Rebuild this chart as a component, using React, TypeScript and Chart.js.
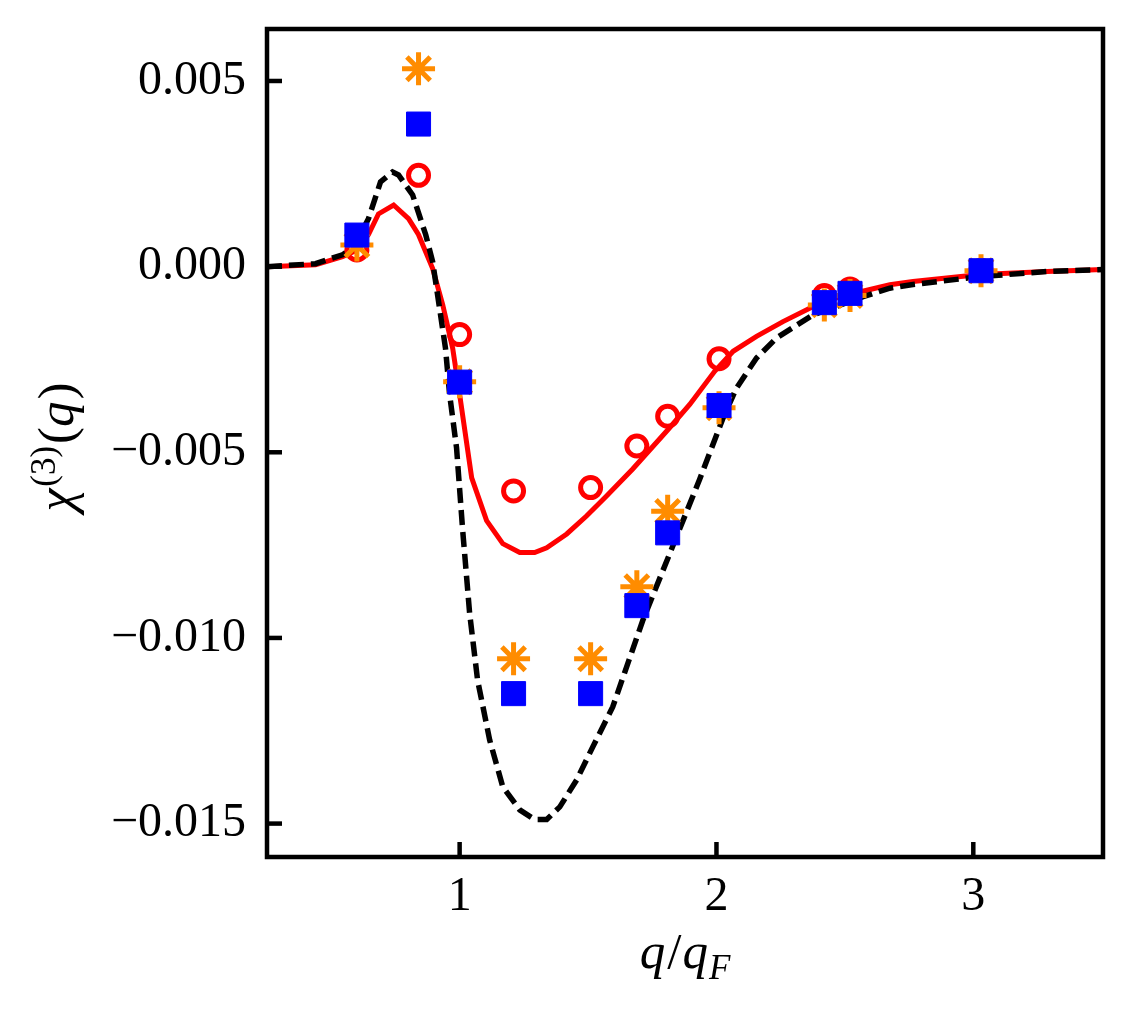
import React, { useEffect, useRef } from "react";
import { Chart, registerables } from "chart.js";

Chart.register(...registerables);

// ---- data ----
const markerQ = [0.6, 0.84, 1.0, 1.21, 1.51, 1.69, 1.81, 2.01, 2.42, 2.52, 3.03];
const squareValues = [0.00085, 0.00384, -0.00311, -0.0115, -0.0115, -0.00913, -0.00717, -0.00374, -0.00097, -0.00072, -0.00011];
const starValues = [0.00058, 0.00533, -0.0031, -0.01056, -0.01056, -0.00862, -0.00659, -0.0038, -0.00103, -0.00078, -0.00011];
const circleValues = [0.00045, 0.00246, -0.00183, -0.00604, -0.00595, -0.00483, -0.00403, -0.00248, -0.00078, -0.0006, -0.0001];

const redLineQ = [0.25, 0.439, 0.544, 0.587, 0.645, 0.684, 0.743, 0.801, 0.84, 0.895, 0.934, 0.973, 1.0, 1.047, 1.105, 1.168, 1.234, 1.292, 1.339, 1.417, 1.495, 1.573, 1.674, 1.81, 1.896, 1.993, 2.065, 2.156, 2.259, 2.363, 2.48, 2.675, 2.765, 3.026, 3.287, 3.505];
const redLineValues = [0, 0.00005, 0.00027, 0.0004, 0.00086, 0.00142, 0.00166, 0.00129, 0.00086, -0.00005, -0.00102, -0.0022, -0.00344, -0.00569, -0.00684, -0.00746, -0.0077, -0.0077, -0.00757, -0.0072, -0.00671, -0.00617, -0.00545, -0.0044, -0.00371, -0.00282, -0.00228, -0.00188, -0.00148, -0.00112, -0.00081, -0.00049, -0.0004, -0.00021, -0.00013, -0.00008];

const blackLineQ = [0.25, 0.439, 0.544, 0.587, 0.645, 0.692, 0.739, 0.762, 0.817, 0.868, 0.895, 0.918, 0.945, 0.961, 0.988, 1.012, 1.039, 1.07, 1.117, 1.168, 1.234, 1.292, 1.339, 1.39, 1.456, 1.518, 1.596, 1.713, 1.818, 1.935, 2.026, 2.078, 2.156, 2.234, 2.325, 2.376, 2.571, 2.675, 2.765, 3.026, 3.287, 3.505];
const blackLineValues = [0, 0.00008, 0.00032, 0.00051, 0.00129, 0.00228, 0.00255, 0.00247, 0.00193, 0.00086, 0.00013, -0.00094, -0.0022, -0.00344, -0.00488, -0.00711, -0.00934, -0.01114, -0.01275, -0.01401, -0.01463, -0.01489, -0.01489, -0.01455, -0.01382, -0.01294, -0.01186, -0.00953, -0.00773, -0.00572, -0.00407, -0.00327, -0.00246, -0.00192, -0.00152, -0.0013, -0.00081, -0.00058, -0.00048, -0.00027, -0.00013, -0.00008];

const xTicks = [1, 2, 3];
const xTickLabels = ["1", "2", "3"];
const yTicks = [0.005, 0, -0.005, -0.01, -0.015];
const yTickLabels = ["0.005", "0.000", "\u22120.005", "\u22120.010", "\u22120.015"];

const FONT = '"Liberation Serif", "DejaVu Serif", serif';

const pts = (xs: number[], ys: number[]) => xs.map((x, i) => ({ x, y: ys[i] }));

const labelFor = (ticks: number[], labels: string[], v: number) => {
  const i = ticks.findIndex((t) => Math.abs(t - v) < 1e-9);
  return i >= 0 ? labels[i] : "";
};

type Run = { text: string; italic?: boolean; size: number; rise?: number; gap?: number };

function drawRuns(ctx: CanvasRenderingContext2D, runs: Run[], cx: number, baseline: number) {
  const widths = runs.map((r) => {
    ctx.font = `${r.italic ? "italic " : ""}${r.size}px ${FONT}`;
    return ctx.measureText(r.text).width + (r.gap || 0);
  });
  const total = widths.reduce((a, b) => a + b, 0);
  let x = cx - total / 2;
  ctx.textAlign = "left";
  ctx.textBaseline = "alphabetic";
  runs.forEach((r, i) => {
    ctx.font = `${r.italic ? "italic " : ""}${r.size}px ${FONT}`;
    ctx.fillText(r.text, x, baseline - (r.rise || 0));
    x += widths[i];
  });
}

const framePlugin = {
  id: "frame",
  afterDatasetsDraw(chart: any) {
    const { ctx, chartArea } = chart;
    const { left, right, top, bottom } = chartArea;
    ctx.save();
    ctx.strokeStyle = "#000";
    ctx.lineWidth = 4.5;
    ctx.strokeRect(left, top, right - left, bottom - top);
    const tickLen = 15;
    const xs = chart.scales.x;
    xTicks.forEach((v) => {
      const px = xs.getPixelForValue(v);
      ctx.beginPath();
      ctx.moveTo(px, bottom);
      ctx.lineTo(px, bottom - tickLen);
      ctx.stroke();
    });
    const ys = chart.scales.y;
    yTicks.forEach((v) => {
      const py = ys.getPixelForValue(v);
      ctx.beginPath();
      ctx.moveTo(left, py);
      ctx.lineTo(left + tickLen, py);
      ctx.stroke();
    });
    ctx.restore();
  },
  afterDraw(chart: any) {
    const { ctx, chartArea } = chart;
    ctx.save();
    ctx.fillStyle = "#000";
    // x title: q/q_F
    const cx = (chartArea.left + chartArea.right) / 2;
    drawRuns(ctx, [
      { text: "q", italic: true, size: 51, gap: 2 },
      { text: "/", size: 51, gap: 1 },
      { text: "q", italic: true, size: 51, gap: 1 },
      { text: "F", italic: true, size: 35, rise: -11 },
    ], cx, 968);
    // y title: chi^(3)(q)
    const cy = (chartArea.top + chartArea.bottom) / 2 + 4;
    ctx.translate(73, cy);
    ctx.rotate(-Math.PI / 2);
    drawRuns(ctx, [
      { text: "\u03C7", italic: true, size: 52, gap: 2 },
      { text: "(3)", size: 35, rise: 18, gap: 2 },
      { text: "(", size: 51 },
      { text: "q", italic: true, size: 51, gap: 2 },
      { text: ")", size: 51 },
    ], 0, 0);
    ctx.restore();
  },
};

export default function App() {
  const ref = useRef<HTMLCanvasElement>(null);
  useEffect(() => {
    if (!ref.current) return;
    const chart = new Chart(ref.current, {
      type: "scatter",
      data: {
        datasets: [
          {
            label: "squares",
            data: pts(markerQ, squareValues),
            pointStyle: "rect",
            pointRadius: 17,
            pointBackgroundColor: "#0000ff",
            pointBorderColor: "#0000ff",
            pointBorderWidth: 1,
            showLine: false,
            order: 0,
          },
          {
            label: "stars",
            data: pts(markerQ, starValues),
            pointStyle: "star",
            pointRadius: 16.5,
            pointBackgroundColor: "#ff8c00",
            pointBorderColor: "#ff8c00",
            pointBorderWidth: 5,
            showLine: false,
            order: 1,
          },
          {
            label: "circles",
            data: pts(markerQ, circleValues),
            pointStyle: "circle",
            pointRadius: 10,
            pointBackgroundColor: "rgba(0,0,0,0)",
            pointBorderColor: "#ff0000",
            pointBorderWidth: 5,
            showLine: false,
            order: 2,
          },
          {
            label: "black",
            data: pts(blackLineQ, blackLineValues),
            showLine: true,
            borderColor: "#000000",
            borderWidth: 5.5,
            borderDash: [15, 7],
            pointRadius: 0,
            tension: 0,
            order: 3,
          },
          {
            label: "red",
            data: pts(redLineQ, redLineValues),
            showLine: true,
            borderColor: "#ff0000",
            borderWidth: 5,
            pointRadius: 0,
            tension: 0,
            order: 4,
          },
        ],
      },
      options: {
        animation: false,
        responsive: false,
        layout: { padding: { top: 29, right: 30, left: 0, bottom: 0 } },
        plugins: { legend: { display: false }, tooltip: { enabled: false } },
        scales: {
          x: {
            type: "linear",
            min: 0.25,
            max: 3.505,
            grid: { display: false, drawTicks: false },
            border: { display: false },
            ticks: {
              color: "#000",
              font: { family: FONT, size: 48 },
              padding: 12,
              maxRotation: 0,
              callback: (v: any) => labelFor(xTicks, xTickLabels, Number(v)),
            },
            afterBuildTicks: (s: any) => {
              s.ticks = xTicks.map((value) => ({ value }));
            },
            afterFit: (s: any) => {
              s.height = 157;
              s.paddingLeft = 0;
              s.paddingRight = 0;
            },
          },
          y: {
            type: "linear",
            min: -0.0159,
            max: 0.0064,
            grid: { display: false, drawTicks: false },
            border: { display: false },
            ticks: {
              color: "#000",
              font: { family: FONT, size: 48 },
              padding: 21,
              callback: (v: any) => labelFor(yTicks, yTickLabels, Number(v)),
            },
            afterBuildTicks: (s: any) => {
              s.ticks = yTicks.map((value) => ({ value }));
            },
            afterFit: (s: any) => {
              s.width = 267;
              s.paddingTop = 0;
              s.paddingBottom = 0;
            },
          },
        },
      },
      plugins: [framePlugin],
    } as any);
    return () => chart.destroy();
  }, []);
  return (
    <div style={{ position: "absolute", left: 0, top: 0, width: 1133, height: 1014, background: "#fff" }}>
      <canvas ref={ref} width={1133} height={1014} style={{ width: 1133, height: 1014, display: "block" }} />
    </div>
  );
}
